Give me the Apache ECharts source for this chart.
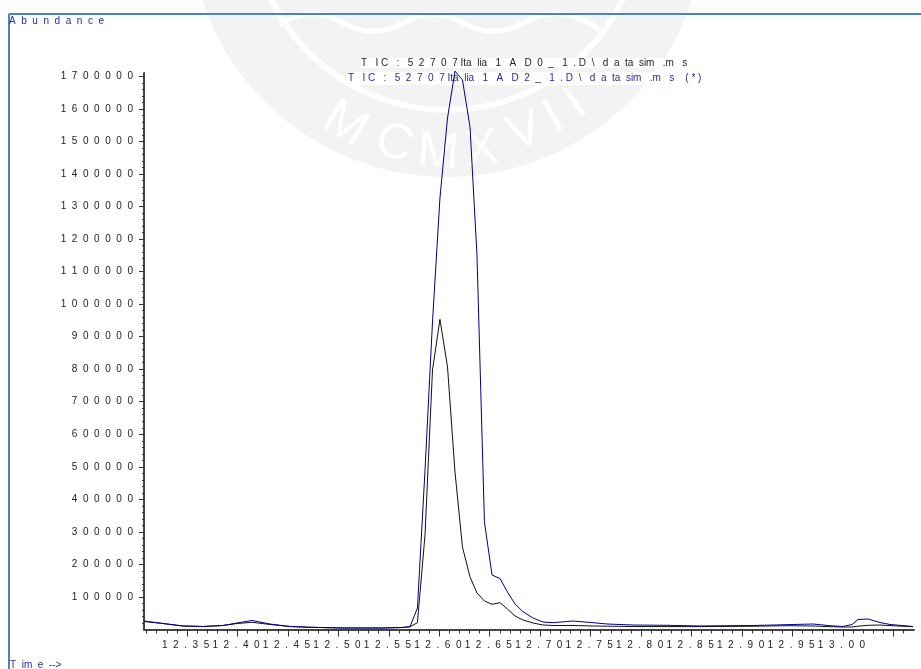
<!DOCTYPE html>
<html>
<head>
<meta charset="utf-8">
<style>html,body{margin:0;padding:0;background:#fff}#c{width:921px;height:669px}</style>
<script src="https://cdn.jsdelivr.net/npm/echarts@6/dist/echarts.min.js"></script>
</head>
<body>
<div id="c"></div>
<script>
const times = [12.3074,12.3262,12.346,12.3659,12.3857,12.3996,12.4144,12.4323,12.4521,12.4719,12.5046,12.5443,12.5631,12.571,12.5784,12.5859,12.5933,12.6007,12.6082,12.6156,12.623,12.6305,12.6374,12.6448,12.6523,12.6602,12.6676,12.6751,12.683,12.6929,12.7028,12.7127,12.7326,12.7524,12.7663,12.792,12.8257,12.8584,12.911,12.9446,12.9704,12.9873,13.0001,13.0091,13.015,13.0249,13.0368,13.0467,13.0695];
const blueValues = [26100,18400,10800,9200,12300,20000,27700,16900,9200,6800,4600,4600,6100,8600,66100,490000,945000,1326000,1572000,1716000,1689000,1544000,1151000,330000,167500,156700,115200,78400,54700,35300,23000,20900,26100,20900,16900,13800,12900,10800,12300,14800,16900,11700,9200,15400,30700,32300,21500,15400,9200];
const blackValues = [24600,18400,10800,9200,12300,18400,22100,15400,9200,6800,4600,4600,6100,8600,20900,290400,797400,953200,806700,484000,253500,161300,112200,87600,77400,82400,63000,41500,29200,20000,13800,12300,12300,10800,10100,9200,8900,8900,10100,11700,10800,8600,7700,7700,10100,12900,13800,12000,8600];
const xMajor = [12.35,12.40,12.45,12.50,12.55,12.60,12.65,12.70,12.75,12.80,12.85,12.90,12.95,13.00,13.05];
const xLabels = [12.35,12.40,12.45,12.50,12.55,12.60,12.65,12.70,12.75,12.80,12.85,12.90,12.95,13.00];
const yLabels = [100000,200000,300000,400000,500000,600000,700000,800000,900000,1000000,1100000,1200000,1300000,1400000,1500000,1600000,1700000];
const titleBlack = "T   I C   :   5  2  7  0  7 Ita  lia   1   A   D  0  _   1  . D  \\   d  a  ta  sim   .m   s";
const titleBlue = "T   I C   :   5  2  7  0  7 Ita  lia   1   A   D  2  _   1  . D  \\   d  a  ta  sim   .m   s    ( * )";
const yName = "A  b  u  n  d  a  n  c  e";
const xName = "T  im  e  -->";

const xMin = 12.3074, xMax = 13.0705, yMax = 1710200;
const xMinor = []; for (let i = 1231; i <= 1306; i++) xMinor.push(i / 100);
const yMinor = []; for (let i = 1; i <= 85; i++) yMinor.push(i * 20000);
const spaced = s => String(s).split('').join('  ');
const font = '"Liberation Sans", Arial, sans-serif';
const wm = '#f3f3f3';

const letters = [['M',345,125,-0.55],['C',394,144,-0.3],['M',438,153,-0.08],['X',482,150,0.12],['V',525,132,0.35],['I',554,118,0.5],['I',576,104,0.6]];
const ribbon = [[280,26,300,8,325,12,345,24],[345,24,365,34,385,34,405,22],[405,22,425,10,445,12,465,24],[465,24,485,34,505,34,525,22],[525,22,545,10,575,10,600,30]];

const chart = echarts.init(document.getElementById('c'), null, {renderer:'canvas'});
chart.setOption({
  animation:false,
  backgroundColor:'#fff',
  title:[
    {text:yName,left:9,top:16,padding:0,z:1,textStyle:{fontFamily:font,fontSize:10,fontWeight:'normal',color:'#2a2a9c'}},
    {text:xName,left:10,top:660,padding:0,z:1,textStyle:{fontFamily:font,fontSize:10,fontWeight:'normal',color:'#2a2a9c'}},
    {text:titleBlack,left:361,top:58,padding:[0,0,0,0],backgroundColor:'#fff',z:1,textStyle:{fontFamily:font,fontSize:10,fontWeight:'normal',color:'#222'}},
    {text:titleBlue,left:348,top:72,padding:[1,0,2,0],backgroundColor:'#fff',z:1,textStyle:{fontFamily:font,fontSize:10,fontWeight:'normal',color:'#2a2a9c'}}
  ],
  graphic:[
    {type:'circle',silent:true,z:-5,shape:{cx:447,cy:-81,r:258},style:{fill:wm}},
    {type:'circle',silent:true,z:-4,shape:{cx:447,cy:-85,r:195},style:{fill:'none',stroke:'#fff',lineWidth:6}},
    ...ribbon.map(b=>({type:'bezierCurve',silent:true,z:-4,shape:{x1:b[0],y1:b[1],cpx1:b[2],cpy1:b[3],cpx2:b[4],cpy2:b[5],x2:b[6],y2:b[7]},style:{fill:'none',stroke:'#fff',lineWidth:5}})),
    ...letters.map(l=>({type:'text',silent:true,z:-3,x:l[1],y:l[2],rotation:l[3],style:{text:l[0],fill:'#fff',font:'50px '+font,align:'center',verticalAlign:'middle'}})),
    {type:'line',silent:true,z:-2,shape:{x1:9,y1:14,x2:921,y2:14},style:{stroke:'#4f81bd',lineWidth:2}},
    {type:'line',silent:true,z:-2,shape:{x1:9,y1:14,x2:9,y2:669},style:{stroke:'#4f81bd',lineWidth:2}}
  ],
  grid:{left:144,top:73,width:770,height:556.5,containLabel:false},
  xAxis:[
    {type:'value',position:'bottom',min:xMin,max:xMax,splitLine:{show:false},
     axisLine:{show:true,onZero:false,lineStyle:{color:'#444',width:2}},
     axisTick:{show:true,length:7,customValues:xMajor,lineStyle:{color:'#333',width:1}},
     axisLabel:{show:true,customValues:xLabels,margin:11,hideOverlap:false,fontFamily:font,fontSize:10,color:'#222',
       formatter:v=>spaced(v.toFixed(2))+' '}},
    {type:'value',position:'bottom',min:xMin,max:xMax,splitLine:{show:false},
     axisLine:{show:false},axisLabel:{show:false},
     axisTick:{show:true,length:4,customValues:xMinor,lineStyle:{color:'#333',width:1}}}
  ],
  yAxis:[
    {type:'value',position:'left',min:0,max:yMax,splitLine:{show:false},
     axisLine:{show:true,onZero:false,lineStyle:{color:'#444',width:2}},
     axisTick:{show:true,length:5,customValues:yLabels,lineStyle:{color:'#333',width:1}},
     axisLabel:{show:true,customValues:yLabels,margin:11,hideOverlap:false,fontFamily:font,fontSize:10,color:'#222',
       formatter:v=>spaced(v)}},
    {type:'value',position:'left',min:0,max:yMax,splitLine:{show:false},
     axisLine:{show:false},axisLabel:{show:false},
     axisTick:{show:true,length:2,customValues:yMinor,lineStyle:{color:'#333',width:1}}}
  ],
  series:[
    {type:'line',name:'D0',clip:false,z:3,symbol:'none',smooth:false,lineStyle:{color:'#111',width:1},
     data:times.map((t,i)=>[t,blackValues[i]])},
    {type:'line',name:'D2',clip:false,z:4,symbol:'none',smooth:false,lineStyle:{color:'#00008f',width:1},
     data:times.map((t,i)=>[t,blueValues[i]])}
  ]
});
</script>
</body>
</html>
